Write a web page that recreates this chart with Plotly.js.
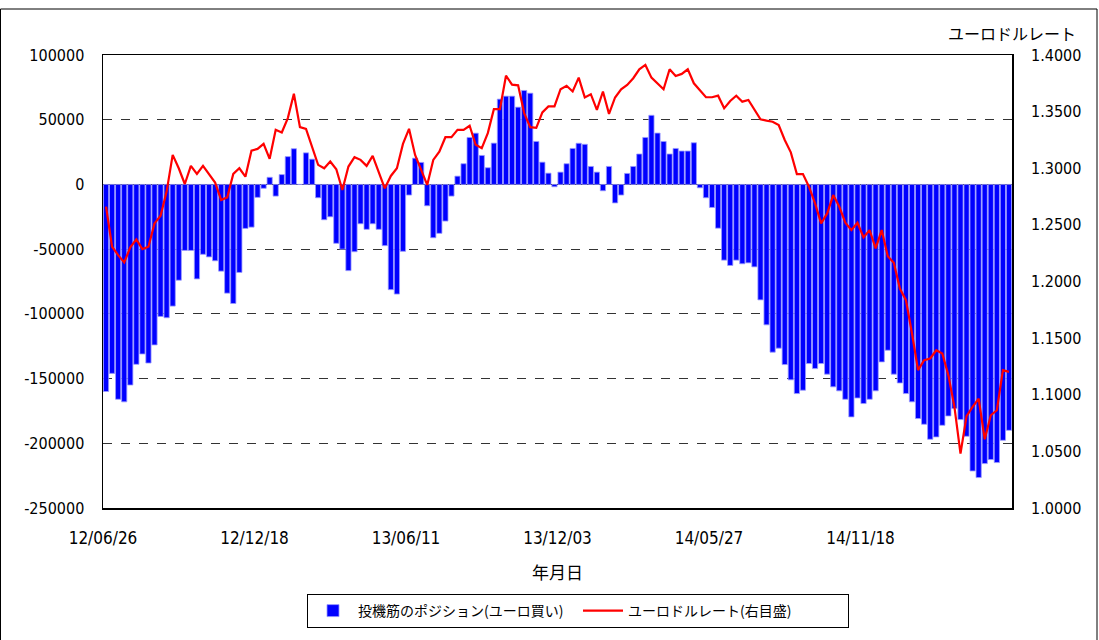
<!DOCTYPE html>
<html>
<head>
<meta charset="utf-8">
<script src="https://cdn.plot.ly/plotly-3.0.1.min.js"></script>
<style>
html,body{margin:0;padding:0;background:#fff;}
#chart{width:1099px;height:640px;}
</style>
</head>
<body>
<div id="chart"></div>
<script>
// 投機筋のポジション (ユーロ買い), weekly from 2012/06/26
const positions = [
 -160000,-146000,-166000,-168000,-155000,-139000,-131000,-138000,-124000,-102000,
 -103000,-94000,-74000,-51000,-51000,-73000,-54000,-56000,-59000,-67000,
 -84000,-92000,-68000,-34000,-33000,-10000,-3000,5500,-9000,7600,
 21500,27600,0,24400,19500,-10300,-27300,-25000,-45500,-50000,
 -66600,-52000,-30400,-34700,-30400,-34700,-47300,-81300,-84700,-51700,
 -8200,20300,17000,-16500,-41200,-37800,-28300,-9000,6400,16000,
 36300,39600,22400,12900,31900,65900,68200,68200,59700,72600,
 70500,33200,17200,8700,-1800,9500,16000,27800,31800,31000,
 13900,9500,-4900,13900,-14300,-8200,8500,13900,23500,36300,
 53400,39700,33200,23500,27800,25800,25800,32200,-2600,-10300,
 -17800,-33800,-58500,-62600,-58500,-61300,-60600,-63700,-89200,-108500,
 -129600,-126500,-139200,-151000,-161600,-159000,-138400,-142300,-138400,-146600,
 -156400,-159500,-166000,-179600,-165000,-169300,-166000,-159500,-137100,-128100,
 -146600,-153400,-161600,-168000,-180900,-185300,-196900,-195100,-186100,-178900,
 -173200,-181700,-194600,-221400,-226500,-215700,-212600,-214900,-197700,-190000
];
// ユーロドルレート (右目盛)
const eurusd = [
 1.2661,1.2307,1.2233,1.2168,1.2301,1.2372,1.2286,1.2307,1.2513,1.2581,
 1.2794,1.3118,1.3000,1.2861,1.3021,1.2950,1.3021,1.2950,1.2873,1.2720,
 1.2743,1.2950,1.3000,1.2926,1.3156,1.3171,1.3215,1.3083,1.3339,1.3316,
 1.3443,1.3658,1.3363,1.3348,1.3186,1.3030,1.3000,1.3059,1.2991,1.2808,
 1.3015,1.3098,1.3074,1.3021,1.3109,1.2971,1.2823,1.2932,1.3000,1.3215,
 1.3348,1.3118,1.2985,1.2853,1.3074,1.3147,1.3274,1.3274,1.3339,1.3339,
 1.3375,1.3207,1.3177,1.3310,1.3522,1.3522,1.3817,1.3738,1.3732,1.3487,
 1.3363,1.3357,1.3493,1.3546,1.3546,1.3698,1.3728,1.3678,1.3800,1.3626,
 1.3654,1.3515,1.3678,1.3480,1.3625,1.3697,1.3736,1.3795,1.3874,1.3912,
 1.3800,1.3750,1.3697,1.3874,1.3815,1.3833,1.3874,1.3750,1.3685,1.3627,
 1.3627,1.3641,1.3529,1.3594,1.3641,1.3588,1.3603,1.3520,1.3432,1.3420,
 1.3411,1.3382,1.3250,1.3140,1.2949,1.2949,1.2837,1.2690,1.2513,1.2601,
 1.2763,1.2660,1.2519,1.2454,1.2519,1.2389,1.2454,1.2292,1.2454,1.2224,
 1.2165,1.1938,1.1835,1.1541,1.1217,1.1305,1.1320,1.1393,1.1364,1.1173,
 1.0893,1.0480,1.0810,1.0893,1.0966,1.0607,1.0819,1.0863,1.1217,1.1202
];
// x tick labels (week index of each label, and its text)
const tickWeeks = [0,25,50,75,100,125];
const tickLabels = ['12/06/26','12/12/18','13/06/11','13/12/03','14/05/27','14/11/18'];
const leftTicks = [100000,50000,0,-50000,-100000,-150000,-200000,-250000];
const leftTickText = ['100000','50000','0','-50000','-100000','-150000','-200000','-250000'];
const rightTicks = [1.0,1.05,1.1,1.15,1.2,1.25,1.3,1.35,1.4];
const barName = '投機筋のポジション(ユーロ買い)';
const lineName = 'ユーロドルレート(右目盛)';
const xTitle = '年月日';
const rightTitle = 'ユーロドルレート';

const weekIdx = positions.map((_, i) => i);
const FONT = '"Liberation Sans Narrow", "DejaVu Sans Condensed", "Noto Sans CJK JP", sans-serif';
const JFONT = '"Noto Sans CJK JP", sans-serif';

// plot area in px
const L = 103, R = 1012, T = 55, B = 508, W = 1099, H = 640;
const px = x => (x - L) / (R - L);
const py = y => (B - y) / (B - T);

const traces = [
  {
    type: 'bar', x: weekIdx, y: positions, name: barName,
    marker: {color: '#0000FF', line: {color: '#9a9aff', width: 0.8}},
    yaxis: 'y'
  },
  {
    type: 'scatter', mode: 'lines', x: weekIdx, y: eurusd, name: lineName,
    line: {color: '#FF0000', width: 2.2},
    yaxis: 'y2'
  }
];

const layout = {
  width: W, height: H,
  margin: {l: L, r: W - R, t: T, b: H - B, pad: 0},
  paper_bgcolor: '#fff', plot_bgcolor: '#fff',
  font: {family: FONT, size: 16, color: '#000'},
  bargap: 0.14,
  showlegend: true,
  legend: {
    orientation: 'h', x: px(578), xanchor: 'center', y: py(594), yanchor: 'top',
    bordercolor: '#000', borderwidth: 1, bgcolor: '#fff',
    font: {family: JFONT, size: 14, color: '#000'},
    entrywidth: 215, itemwidth: 40, traceorder: 'normal'
  },
  xaxis: {
    range: [-0.5, positions.length - 0.5],
    tickmode: 'array',
    tickvals: tickWeeks.map(w => w - 0.5),
    ticktext: tickLabels,
    ticks: '', ticklabelstandoff: 14,
    tickfont: {family: FONT, size: 17},
    showgrid: false, zeroline: false,
    showline: true, mirror: true, linecolor: '#000', linewidth: 1.5,
    title: {text: xTitle, font: {family: JFONT, size: 17}, standoff: 20}
  },
  yaxis: {
    range: [-250000, 100000],
    tickmode: 'array', tickvals: leftTicks, ticktext: leftTickText,
    ticks: '', ticklabelstandoff: 14,
    tickfont: {family: FONT, size: 16},
    showgrid: true, gridcolor: '#333', griddash: 'dash', gridwidth: 1,
    zeroline: true, zerolinecolor: '#000', zerolinewidth: 1.5,
    showline: true, mirror: true, linecolor: '#000', linewidth: 1.5
  },
  yaxis2: {
    overlaying: 'y', side: 'right',
    range: [1.0, 1.4],
    tickmode: 'array', tickvals: rightTicks, tickformat: '.4f',
    ticks: '', ticklabelstandoff: 18,
    tickfont: {family: FONT, size: 16},
    showgrid: false, zeroline: false, showline: false
  },
  annotations: [
    {text: rightTitle, xref: 'paper', yref: 'paper', x: px(1078), y: py(33),
     xanchor: 'right', yanchor: 'middle', showarrow: false,
     font: {family: JFONT, size: 16, color: '#000'}}
  ],
  shapes: [
    {type: 'rect', xref: 'paper', yref: 'paper', x0: px(0.5), x1: px(1097), y0: py(9), y1: py(660),
     line: {color: '#000', width: 1}, fillcolor: 'rgba(0,0,0,0)', layer: 'below'}
  ]
};

Plotly.newPlot('chart', traces, layout, {displayModeBar: false, staticPlot: true});
</script>
</body>
</html>
